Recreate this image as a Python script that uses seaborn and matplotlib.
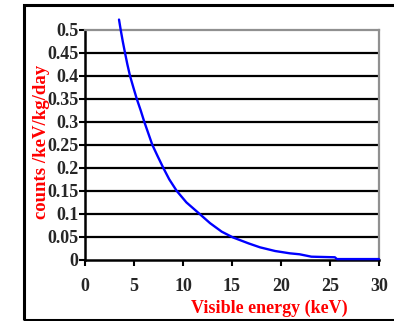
import matplotlib
matplotlib.use("Agg")
import matplotlib.pyplot as plt
import seaborn as sns
import pandas as pd
from matplotlib.patches import Rectangle

energy = [3.47, 3.64, 3.85, 4.08, 4.32, 4.59, 4.93, 5.28, 5.68, 6.05, 6.46,
          6.87, 7.42, 7.99, 8.6, 9.36, 10.35, 11.75, 12.76, 13.95, 15.1, 16.7,
          17.86, 19.4, 20.9, 21.9, 23.1, 25.5, 25.7, 30.0]
counts = [0.522, 0.50, 0.475, 0.45, 0.425, 0.40, 0.375, 0.35, 0.325, 0.30,
          0.275, 0.25, 0.225, 0.20, 0.175, 0.15, 0.125, 0.099, 0.080, 0.0615,
          0.049, 0.036, 0.0275, 0.0195, 0.0145, 0.0124, 0.0072, 0.0059, 0.002,
          0.002]
x_ticks = [0, 5, 10, 15, 20, 25, 30]
y_ticks = [0, 0.05, 0.1, 0.15, 0.2, 0.25, 0.3, 0.35, 0.4, 0.45, 0.5]
y_tick_labels = ["0", "0.05", "0.1", "0.15", "0.2", "0.25", "0.3", "0.35",
                 "0.4", "0.45", "0.5"]

sns.set_style("white")
plt.rcParams['font.family'] = ['Liberation Serif', 'DejaVu Serif']

df = pd.DataFrame({"energy": energy, "counts": counts})

fig = plt.figure(figsize=(3.94, 3.21), dpi=100)
ax = fig.add_axes([85/394, 1-260/321, (379-85)/394, (260-29.7)/321])

# outer frame
fig.patches.append(Rectangle((23.5/394, 1-320/321), 1.2, (320-5)/321,
                             transform=fig.transFigure, fill=False,
                             edgecolor="black", linewidth=2.2, clip_on=False))

for yv in y_ticks[1:-1]:
    ax.axhline(yv, color="black", linewidth=1.6, zorder=1)

sns.lineplot(data=df, x="energy", y="counts", ax=ax, color="#0000ff",
             linewidth=1.7, zorder=3, clip_on=False)

ax.set_xlim(0, 30)
ax.set_ylim(0, 0.5)
ax.set_xticks(x_ticks)
ax.set_xticklabels([str(v) for v in x_ticks])
ax.set_yticks(y_ticks)
ax.set_yticklabels(y_tick_labels)

for side in ["top", "right"]:
    ax.spines[side].set_color("#909090")
    ax.spines[side].set_linewidth(1.6)
for side in ["left", "bottom"]:
    ax.spines[side].set_color("black")
    ax.spines[side].set_linewidth(1.8)

ax.tick_params(axis="both", which="both", direction="out", length=4, width=1.5,
               color="black", labelsize=13)
ax.tick_params(axis="x", pad=9, bottom=True)
ax.tick_params(axis="y", pad=0.5, left=True)
for lab in ax.get_xticklabels() + ax.get_yticklabels():
    lab.set_fontweight("bold")

ax.set_xlabel("Visible energy (keV)", color="red", fontweight="bold",
              fontsize=13)
ax.set_ylabel("counts /keV/kg/day", color="red", fontweight="bold",
              fontsize=13.5)
ax.yaxis.set_label_coords(-0.119, 0.512)
ax.xaxis.set_label_coords(0.626, -0.172)

fig.savefig("out.png", dpi=100)
